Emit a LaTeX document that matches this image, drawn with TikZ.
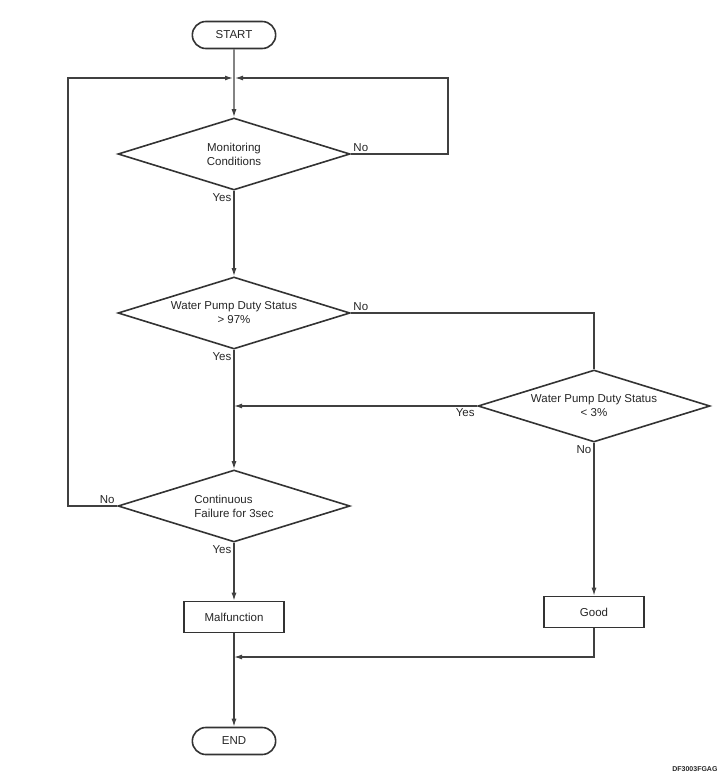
\documentclass[tikz,border=0pt]{standalone}
\usepackage{fontspec}
\setmainfont{Liberation Sans}
\usetikzlibrary{shapes,arrows.meta}

\begin{document}
\begin{tikzpicture}[x=1pt,y=-1pt,
    every node/.style={font=\fontsize{11.5}{14}\selectfont, text=black!85},
    decision/.style={diamond,draw=black!80,line width=1.6pt,aspect=3.2,inner sep=0pt,minimum width=232pt,minimum height=72pt,align=center},
    block/.style={rectangle,draw=black!80,line width=1.6pt,minimum width=100pt,minimum height=31pt},
    terminal/.style={rounded rectangle,draw=black!80,line width=1.6pt,minimum width=90pt,minimum height=27pt},
    line/.style={draw=black!75,line width=1.3pt},
    arrow/.style={line,-{Latex[length=8pt,width=5pt]}},
    lbl/.style={inner sep=2pt}]
  \useasboundingbox (0,0) rectangle (720,778);
  % nodes
  \node[terminal] (start) at (234,35) {START};
  \node[decision] (mon) at (234,154) {Monitoring\\Conditions};
  \node[decision] (hi) at (234,313) {Water Pump Duty Status\\> 97\%};
  \node[decision] (lo) at (594,406) {Water Pump Duty Status\\< 3\%};
  \node[decision,align=left] (cont) at (234,506) {Continuous\\Failure for 3sec};
  \node[block] (mal) at (234,617) {Malfunction};
  \node[block] (good) at (594,612) {Good};
  \node[terminal] (end) at (234,741) {END};
  \node[anchor=east,font=\fontsize{7}{8}\selectfont\bfseries] (code) at (721,769) {DF3003FGAG};
  % helper points
  \coordinate (join) at (234,78);
  \coordinate (rloop) at (448,78);
  \coordinate (lloop) at (68,78);
  \coordinate (yesjoin) at (234,406);
  \coordinate (merge) at (234,657);
  % connectors
  \draw[arrow] (start) -- (mon);
  \draw[arrow] (mon.east) node[lbl,above right] {No} -| (rloop) -- ([xshift=1pt]join);
  \draw[arrow] (cont.west) node[lbl,above left] {No} -| (lloop) -- ([xshift=-1pt]join);
  \draw[arrow] (mon.south) node[lbl,below left] {Yes} -- (hi.north);
  \draw[line] (hi.east) node[lbl,above right] {No} -| (lo.north);
  \draw[arrow] (hi.south) node[lbl,below left] {Yes} -- (cont.north);
  \draw[arrow] (lo.west) node[lbl,below left] {Yes} -- (yesjoin);
  \draw[arrow] (lo.south) node[lbl,below left] {No} -- (good.north);
  \draw[arrow] (cont.south) node[lbl,below left] {Yes} -- (mal.north);
  \draw[arrow] (mal.south) -- (end.north);
  \draw[arrow] (good.south) |- (merge);
\end{tikzpicture}
\end{document}
